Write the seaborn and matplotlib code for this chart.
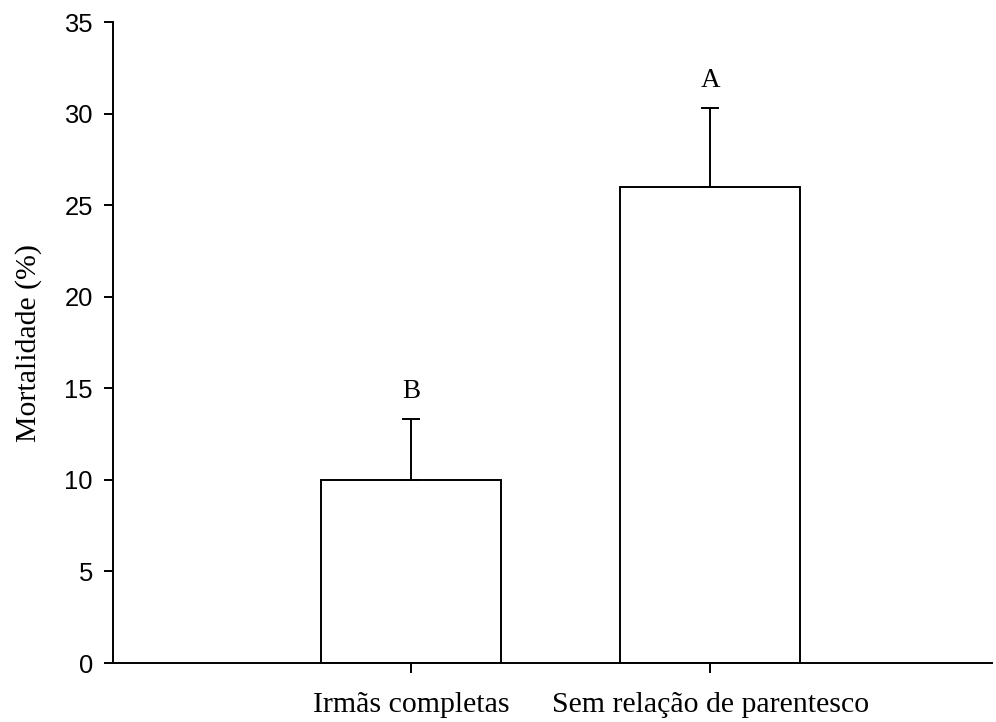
import matplotlib
matplotlib.use("Agg")
import matplotlib.pyplot as plt
import seaborn as sns
import pandas as pd

categories = ["Irmãs completas", "Sem relação de parentesco"]
mortality = [10.0, 26.0]
errors = [3.3, 4.3]
letters = ["B", "A"]
yticks = [0, 5, 10, 15, 20, 25, 30, 35]

sns.set_theme(style="ticks")
plt.rcParams["font.family"] = ["Liberation Sans", "DejaVu Sans"]
plt.rcParams["text.color"] = "black"
plt.rcParams["axes.labelcolor"] = "black"
plt.rcParams["xtick.color"] = "black"
plt.rcParams["ytick.color"] = "black"

df = pd.DataFrame({"cat": categories, "val": mortality})

fig = plt.figure(figsize=(9.96, 7.22), dpi=100)
ax = fig.add_axes([0.1135, 0.0817, 0.8825, 0.8878])

sns.barplot(data=df, x="cat", y="val", ax=ax, color="white", edgecolor="black",
            linewidth=1.4, width=0.6, errorbar=None, saturation=1)
xs = list(range(len(categories)))
ax.errorbar(xs, mortality, yerr=[[0] * len(errors), errors], fmt="none",
            ecolor="black", elinewidth=1.4, capsize=6.8, capthick=1.4)
for x, v, e, t in zip(xs, mortality, errors, letters):
    ax.text(x, v + e + 0.85, t, ha="center", va="bottom", color="black",
            fontfamily="Liberation Serif", fontsize=19.5)

ax.set_xlim(-0.997, 1.943)
ax.set_ylim(0, 35)
ax.set_yticks(yticks)
ax.set_yticklabels([str(t) for t in yticks], fontsize=18.4)
ax.set_xticks(xs)
ax.set_xticklabels(categories, fontfamily="Liberation Serif", fontsize=21.5)
ax.set_xlabel("")
ax.set_ylabel("Mortalidade (%)", fontfamily="Liberation Serif", fontsize=21.5, labelpad=16)
sns.despine(ax=ax)
for s in ["left", "bottom"]:
    ax.spines[s].set_linewidth(1.4)
    ax.spines[s].set_color("black")
ax.tick_params(axis="y", length=6.5, width=1.4, color="black", pad=8, labelcolor="black")
ax.tick_params(axis="x", length=7, width=1.4, color="black", pad=14, labelcolor="black")
ax.set_facecolor("white")
fig.savefig("out.png", dpi=100, facecolor="white")
